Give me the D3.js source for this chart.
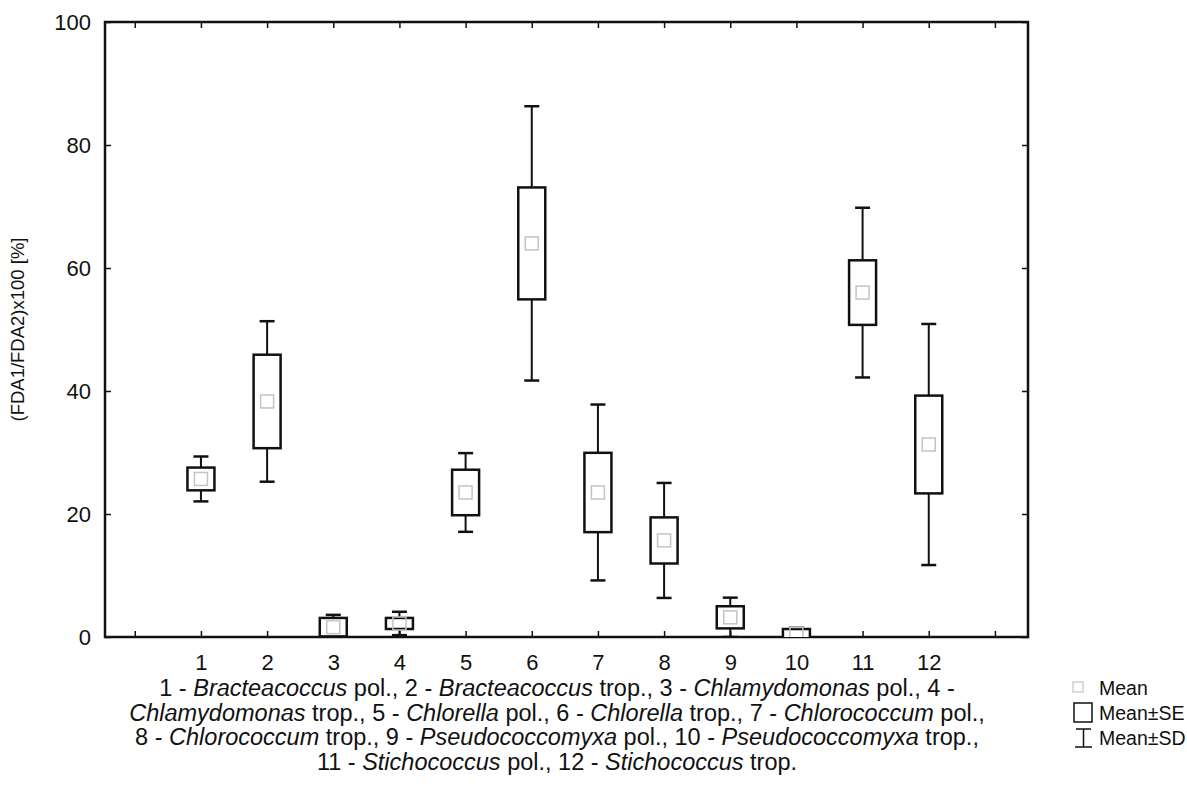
<!DOCTYPE html>
<html>
<head>
<meta charset="utf-8">
<script src="https://cdn.jsdelivr.net/npm/d3@7"></script>
<style>
  body { margin: 0; background: #fff; }
  svg { font-family: "Liberation Sans", Arial, sans-serif; }
</style>
</head>
<body>
<div id="chart"></div>
<script>
// groups 1..12, mean / SE / SD
var groups = [1, 2, 3, 4, 5, 6, 7, 8, 9, 10, 11, 12];
var means  = [25.7, 38.3, 1.6, 2.2, 23.5, 64.0, 23.5, 15.7, 3.2, 0.5, 56.0, 31.3];
var ses    = [1.85, 7.6, 1.5, 0.9, 3.7, 9.1, 6.45, 3.75, 1.8, 0.8, 5.25, 7.95];
var sds    = [3.65, 13.05, 2.0, 1.9, 6.4, 22.3, 14.3, 9.35, 3.2, 1.0, 13.8, 19.6];
var yTicks = [0, 20, 40, 60, 80, 100];
var xTicks = d3.range(0, 14);

// caption, [text, italic?]
var caption = [
  [["1 - ", 0], ["Bracteacoccus", 1], [" pol., 2 - ", 0], ["Bracteacoccus", 1], [" trop., 3 - ", 0], ["Chlamydomonas", 1], [" pol., 4 -", 0]],
  [["Chlamydomonas", 1], [" trop., 5 - ", 0], ["Chlorella", 1], [" pol., 6 - ", 0], ["Chlorella", 1], [" trop., 7 - ", 0], ["Chlorococcum", 1], [" pol.,", 0]],
  [["8 - ", 0], ["Chlorococcum", 1], [" trop., 9 - ", 0], ["Pseudococcomyxa", 1], [" pol., 10 - ", 0], ["Pseudococcomyxa", 1], [" trop.,", 0]],
  [["11 - ", 0], ["Stichococcus", 1], [" pol., 12 - ", 0], ["Stichococcus", 1], [" trop.", 0]]
];

var W = 1187, H = 805,
    L = 105, R = 1028, T = 22, B = 637,     // plot frame
    boxW = 27, capW = 15, meanW = 13;

var svg = d3.select("#chart").append("svg")
    .attr("width", W).attr("height", H);

var x = d3.scaleLinear().domain([-0.45, 13.5]).range([L, R]);
var y = d3.scaleLinear().domain([0, 100]).range([B, T]);

// axes, ticks pointing inside
var gB = svg.append("g").attr("transform", "translate(0," + B + ")")
    .call(d3.axisBottom(x).tickValues(xTicks).tickSizeInner(-6).tickSizeOuter(0).tickPadding(17)
        .tickFormat(d => (d >= 1 && d <= 12) ? d : ""));
var gT = svg.append("g").attr("transform", "translate(0," + T + ")")
    .call(d3.axisTop(x).tickValues(xTicks).tickSizeInner(-6).tickSizeOuter(0).tickFormat(""));
var gL = svg.append("g").attr("transform", "translate(" + L + ",0)")
    .call(d3.axisLeft(y).tickValues(yTicks).tickSizeInner(-6).tickSizeOuter(0).tickPadding(14));
var gR = svg.append("g").attr("transform", "translate(" + R + ",0)")
    .call(d3.axisRight(y).tickValues(yTicks).tickSizeInner(-6).tickSizeOuter(0).tickFormat(""));

[gB, gT, gL, gR].forEach(g => {
    g.select(".domain").remove();
    g.selectAll(".tick line").attr("stroke", "#111").attr("stroke-width", 1.5);
    g.selectAll("text").attr("font-size", 22).attr("fill", "#111")
        .attr("font-family", "Liberation Sans, Arial, sans-serif");
});

svg.append("rect")
    .attr("x", L).attr("y", T).attr("width", R - L).attr("height", B - T)
    .attr("fill", "none").attr("stroke", "#111").attr("stroke-width", 2.5);

svg.append("text")
    .attr("transform", "translate(24," + ((T + B) / 2) + ") rotate(-90)")
    .attr("text-anchor", "middle")
    .attr("font-size", 18.5).attr("fill", "#111")
    .text("(FDA1/FDA2)x100 [%]");

// clip so whiskers below 0 stop at the axis
svg.append("clipPath").attr("id", "plotclip")
    .append("rect").attr("x", L).attr("y", T).attr("width", R - L).attr("height", B - T);

var data = groups.map((g, i) => ({ g: g, m: means[i], se: ses[i], sd: sds[i] }));

var boxes = svg.append("g").attr("clip-path", "url(#plotclip)")
    .selectAll("g.box").data(data).enter()
    .append("g").attr("class", "box");

// whiskers
boxes.append("line")
    .attr("x1", d => x(d.g)).attr("x2", d => x(d.g))
    .attr("y1", d => y(d.m + d.sd)).attr("y2", d => y(d.m - d.sd))
    .attr("stroke", "#111").attr("stroke-width", 2);
boxes.append("line")
    .attr("x1", d => x(d.g) - capW / 2).attr("x2", d => x(d.g) + capW / 2)
    .attr("y1", d => y(d.m + d.sd)).attr("y2", d => y(d.m + d.sd))
    .attr("stroke", "#111").attr("stroke-width", 2.5);
boxes.append("line")
    .attr("x1", d => x(d.g) - capW / 2).attr("x2", d => x(d.g) + capW / 2)
    .attr("y1", d => y(d.m - d.sd)).attr("y2", d => y(d.m - d.sd))
    .attr("stroke", "#111").attr("stroke-width", 2.5);

// SE box
boxes.append("rect")
    .attr("x", d => x(d.g) - boxW / 2).attr("width", boxW)
    .attr("y", d => y(d.m + d.se)).attr("height", d => y(d.m - d.se) - y(d.m + d.se))
    .attr("fill", "#fff").attr("stroke", "#111").attr("stroke-width", 2.5);

// mean marker
boxes.append("rect")
    .attr("x", d => x(d.g) - meanW / 2).attr("width", meanW)
    .attr("y", d => y(d.m) - meanW / 2).attr("height", meanW)
    .attr("fill", "none").attr("stroke", "#c4c4c4").attr("stroke-width", 1.5);

// caption under the chart
var cap = svg.append("g").attr("fill", "#111").attr("font-size", 23.5);
caption.forEach((line, i) => {
    var t = cap.append("text")
        .attr("x", 557).attr("y", 696 + i * 24.7)
        .attr("text-anchor", "middle");
    line.forEach(p => {
        t.append("tspan").text(p[0]).attr("font-style", p[1] ? "italic" : "normal");
    });
});

// legend
var lg = svg.append("g").attr("fill", "#111").attr("font-size", 19.5);
lg.append("rect").attr("x", 1073).attr("y", 682).attr("width", 10).attr("height", 10)
    .attr("fill", "none").attr("stroke", "#c4c4c4").attr("stroke-width", 1.2);
lg.append("rect").attr("x", 1074).attr("y", 703).attr("width", 18).attr("height", 19)
    .attr("fill", "none").attr("stroke", "#111").attr("stroke-width", 1.5);
lg.append("path").attr("d", "M1076,729H1091M1083.5,729V747M1075,747H1092")
    .attr("fill", "none").attr("stroke", "#111").attr("stroke-width", 1.5);
lg.append("text").attr("x", 1099).attr("y", 695).text("Mean");
lg.append("text").attr("x", 1099).attr("y", 720).text("Mean\u00b1SE");
lg.append("text").attr("x", 1099).attr("y", 745).text("Mean\u00b1SD");
</script>
</body>
</html>
